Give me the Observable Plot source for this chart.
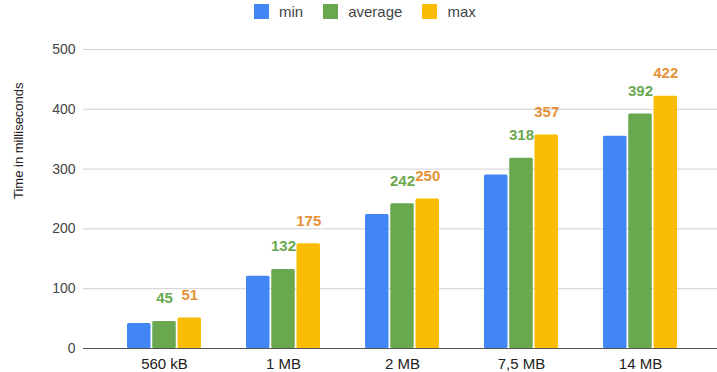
<!DOCTYPE html>
<html>
<head>
<meta charset="utf-8">
<script src="https://cdn.jsdelivr.net/npm/d3@7"></script>
<script src="https://cdn.jsdelivr.net/npm/@observablehq/plot@0.6"></script>
<style>
  body { margin: 0; background: #fff; font-family: "Liberation Sans", Arial, sans-serif; }
  #legend { height: 30px; display: flex; align-items: center; padding-left: 254px; }
  #legend .lg-swatches-wrap { min-height: 30px; font-size: 15px; color: #444; font-family: "Liberation Sans", Arial, sans-serif; }
  #legend .lg-swatch { margin-right: 20px; }
  #legend .lg-swatch > svg { margin-right: 10px; }
</style>
</head>
<body>
<div id="legend"></div>
<div id="chart"></div>
<script>
// File sizes tested and measured load times (ms)
const sizes = ["560 kB", "1 MB", "2 MB", "7,5 MB", "14 MB"];
const series = ["min", "average", "max"];
const minMs = [42, 121, 224, 290, 355];
const avgMs = [45, 132, 242, 318, 392];
const maxMs = [51, 175, 250, 357, 422];
const yTicks = [0, 100, 200, 300, 400, 500];
const barColors = ["#4285f4", "#6aa84f", "#fbbc04"];
const avgLabelColor = "#6aa84f";
const maxLabelColor = "#e69138";

const toRows = (values) => sizes.map((size, i) => ({size, value: values[i]}));
const minRows = toRows(minMs);
const avgRows = toRows(avgMs);
const maxRows = toRows(maxMs);

const font = "'Liberation Sans', Arial, sans-serif";

const legend = Plot.legend({
  color: {type: "ordinal", domain: series, range: barColors},
  swatchSize: 15,
  className: "lg"
});
document.getElementById("legend").append(legend);

// Each size gets one band; the three series split that band into slots.
const slot = 25.25;      // distance between neighbouring bars in a group
const barInset = 50.5;   // band width minus one bar's width

const label = (rows, color, dx) => Plot.text(rows, {
  x: "size", y: "value", text: d => String(d.value), dx, dy: -23,
  fill: color, fontWeight: "bold", fontSize: 15
});

const chart = Plot.plot({
  width: 717,
  height: 342,
  marginLeft: 83,
  marginRight: 0,
  marginTop: 19,
  marginBottom: 24,
  style: {fontFamily: font, background: "#fff", overflow: "visible"},
  x: {domain: sizes, range: [86, 717], paddingInner: 0.3795, paddingOuter: 0.3355, axis: null},
  y: {domain: [0, 500], axis: null},
  marks: [
    // horizontal gridlines
    Plot.ruleY(yTicks.slice(1), {stroke: "#d0d0d0", strokeWidth: 1}),
    // y tick labels
    Plot.text(yTicks, {
      y: d => d, text: d => String(d), frameAnchor: "left",
      textAnchor: "end", dx: -8, fill: "#444", fontSize: 14
    }),
    // y axis title
    Plot.text(["Time in milliseconds"], {
      frameAnchor: "left", rotate: -90, dx: -65,
      fill: "#222", fontSize: 13
    }),
    Plot.axisX({anchor: "bottom", tickSize: 0, tickPadding: 10, fontSize: 15, fill: "#222", label: null}),
    Plot.barY(minRows, {x: "size", y: "value", fill: barColors[0], insetRight: barInset, rx: 1.5}),
    Plot.barY(avgRows, {x: "size", y: "value", fill: barColors[1], insetLeft: barInset / 2, insetRight: barInset / 2, rx: 1.5}),
    Plot.barY(maxRows, {x: "size", y: "value", fill: barColors[2], insetLeft: barInset, rx: 1.5}),
    label(avgRows, avgLabelColor, 0),
    label(maxRows, maxLabelColor, slot),
    // baseline
    Plot.ruleY([0], {stroke: "#555", strokeWidth: 1})
  ]
});
document.getElementById("chart").append(chart);
</script>
</body>
</html>
